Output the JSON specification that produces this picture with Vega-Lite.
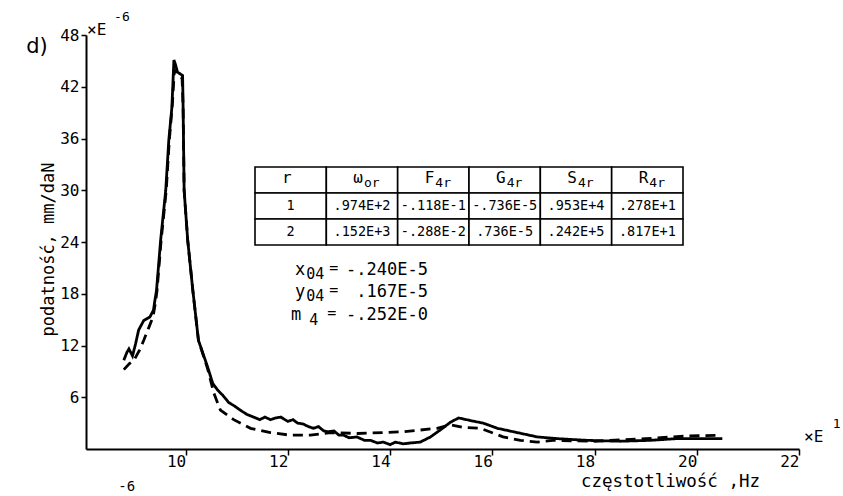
{
  "$schema": "https://vega.github.io/schema/vega-lite/v6.json",
  "width": 713,
  "height": 414,
  "autosize": {"type": "none"},
  "padding": {"left": 86, "top": 35, "right": 44, "bottom": 47},
  "background": "white",
  "config": {
    "view": {"stroke": null},
    "font": "DejaVu Sans Mono",
    "axis": {
      "domainColor": "black", "domainWidth": 2, "tickColor": "black", "tickWidth": 1.5,
      "labelColor": "black", "titleColor": "black", "titleFontWeight": "normal",
      "labelFont": "DejaVu Sans Mono", "titleFont": "DejaVu Sans Mono", "grid": false,
      "labelFontSize": 16, "titleFontSize": 17
    }
  },
  "datasets": {
    "curves": [
      {"x": 8.79, "y": 10.3, "series": "pomiar"},
      {"x": 8.85, "y": 11.2, "series": "pomiar"},
      {"x": 8.89, "y": 11.6, "series": "pomiar"},
      {"x": 8.96, "y": 10.8, "series": "pomiar"},
      {"x": 9.02, "y": 12.2, "series": "pomiar"},
      {"x": 9.08, "y": 13.8, "series": "pomiar"},
      {"x": 9.18, "y": 14.9, "series": "pomiar"},
      {"x": 9.30, "y": 15.3, "series": "pomiar"},
      {"x": 9.37, "y": 16.1, "series": "pomiar"},
      {"x": 9.40, "y": 17.3, "series": "pomiar"},
      {"x": 9.43, "y": 18.4, "series": "pomiar"},
      {"x": 9.51, "y": 24.2, "series": "pomiar"},
      {"x": 9.61, "y": 30.0, "series": "pomiar"},
      {"x": 9.67, "y": 35.8, "series": "pomiar"},
      {"x": 9.73, "y": 39.6, "series": "pomiar"},
      {"x": 9.77, "y": 45.1, "series": "pomiar"},
      {"x": 9.80, "y": 44.6, "series": "pomiar"},
      {"x": 9.84, "y": 43.7, "series": "pomiar"},
      {"x": 9.94, "y": 43.3, "series": "pomiar"},
      {"x": 9.95, "y": 39.6, "series": "pomiar"},
      {"x": 9.97, "y": 30.0, "series": "pomiar"},
      {"x": 10.04, "y": 24.2, "series": "pomiar"},
      {"x": 10.14, "y": 18.4, "series": "pomiar"},
      {"x": 10.25, "y": 12.6, "series": "pomiar"},
      {"x": 10.43, "y": 9.5, "series": "pomiar"},
      {"x": 10.53, "y": 7.6, "series": "pomiar"},
      {"x": 10.63, "y": 6.8, "series": "pomiar"},
      {"x": 10.73, "y": 6.2, "series": "pomiar"},
      {"x": 10.84, "y": 5.4, "series": "pomiar"},
      {"x": 10.95, "y": 5.0, "series": "pomiar"},
      {"x": 11.07, "y": 4.5, "series": "pomiar"},
      {"x": 11.20, "y": 4.0, "series": "pomiar"},
      {"x": 11.33, "y": 3.7, "series": "pomiar"},
      {"x": 11.45, "y": 3.4, "series": "pomiar"},
      {"x": 11.55, "y": 3.7, "series": "pomiar"},
      {"x": 11.66, "y": 3.4, "series": "pomiar"},
      {"x": 11.76, "y": 3.6, "series": "pomiar"},
      {"x": 11.86, "y": 3.7, "series": "pomiar"},
      {"x": 12.00, "y": 3.2, "series": "pomiar"},
      {"x": 12.10, "y": 3.4, "series": "pomiar"},
      {"x": 12.19, "y": 3.0, "series": "pomiar"},
      {"x": 12.30, "y": 2.9, "series": "pomiar"},
      {"x": 12.40, "y": 2.6, "series": "pomiar"},
      {"x": 12.50, "y": 2.4, "series": "pomiar"},
      {"x": 12.60, "y": 2.6, "series": "pomiar"},
      {"x": 12.70, "y": 2.1, "series": "pomiar"},
      {"x": 12.78, "y": 2.0, "series": "pomiar"},
      {"x": 12.90, "y": 2.1, "series": "pomiar"},
      {"x": 13.00, "y": 1.6, "series": "pomiar"},
      {"x": 13.09, "y": 1.6, "series": "pomiar"},
      {"x": 13.20, "y": 1.3, "series": "pomiar"},
      {"x": 13.35, "y": 1.4, "series": "pomiar"},
      {"x": 13.50, "y": 1.0, "series": "pomiar"},
      {"x": 13.62, "y": 1.0, "series": "pomiar"},
      {"x": 13.75, "y": 0.7, "series": "pomiar"},
      {"x": 13.87, "y": 0.8, "series": "pomiar"},
      {"x": 14.00, "y": 0.5, "series": "pomiar"},
      {"x": 14.10, "y": 0.8, "series": "pomiar"},
      {"x": 14.26, "y": 0.6, "series": "pomiar"},
      {"x": 14.40, "y": 0.7, "series": "pomiar"},
      {"x": 14.59, "y": 0.8, "series": "pomiar"},
      {"x": 14.79, "y": 1.4, "series": "pomiar"},
      {"x": 14.98, "y": 2.2, "series": "pomiar"},
      {"x": 15.18, "y": 3.1, "series": "pomiar"},
      {"x": 15.34, "y": 3.6, "series": "pomiar"},
      {"x": 15.57, "y": 3.3, "series": "pomiar"},
      {"x": 15.82, "y": 3.0, "series": "pomiar"},
      {"x": 16.10, "y": 2.4, "series": "pomiar"},
      {"x": 16.49, "y": 1.9, "series": "pomiar"},
      {"x": 16.88, "y": 1.4, "series": "pomiar"},
      {"x": 17.27, "y": 1.2, "series": "pomiar"},
      {"x": 17.86, "y": 1.0, "series": "pomiar"},
      {"x": 18.50, "y": 0.9, "series": "pomiar"},
      {"x": 19.08, "y": 1.0, "series": "pomiar"},
      {"x": 19.60, "y": 1.2, "series": "pomiar"},
      {"x": 20.50, "y": 1.2, "series": "pomiar"},
      {"x": 8.79, "y": 9.2, "series": "obliczenia"},
      {"x": 8.90, "y": 9.9, "series": "obliczenia"},
      {"x": 8.99, "y": 10.3, "series": "obliczenia"},
      {"x": 9.10, "y": 11.5, "series": "obliczenia"},
      {"x": 9.18, "y": 12.6, "series": "obliczenia"},
      {"x": 9.28, "y": 14.1, "series": "obliczenia"},
      {"x": 9.36, "y": 15.3, "series": "obliczenia"},
      {"x": 9.41, "y": 17.0, "series": "obliczenia"},
      {"x": 9.44, "y": 18.4, "series": "obliczenia"},
      {"x": 9.52, "y": 24.2, "series": "obliczenia"},
      {"x": 9.62, "y": 30.0, "series": "obliczenia"},
      {"x": 9.68, "y": 35.8, "series": "obliczenia"},
      {"x": 9.74, "y": 40.0, "series": "obliczenia"},
      {"x": 9.78, "y": 44.0, "series": "obliczenia"},
      {"x": 9.82, "y": 43.5, "series": "obliczenia"},
      {"x": 9.93, "y": 43.0, "series": "obliczenia"},
      {"x": 9.95, "y": 39.6, "series": "obliczenia"},
      {"x": 9.97, "y": 30.0, "series": "obliczenia"},
      {"x": 10.04, "y": 24.2, "series": "obliczenia"},
      {"x": 10.14, "y": 18.4, "series": "obliczenia"},
      {"x": 10.25, "y": 12.6, "series": "obliczenia"},
      {"x": 10.43, "y": 9.3, "series": "obliczenia"},
      {"x": 10.55, "y": 6.5, "series": "obliczenia"},
      {"x": 10.68, "y": 4.5, "series": "obliczenia"},
      {"x": 10.94, "y": 3.4, "series": "obliczenia"},
      {"x": 11.27, "y": 2.4, "series": "obliczenia"},
      {"x": 11.66, "y": 1.9, "series": "obliczenia"},
      {"x": 12.05, "y": 1.6, "series": "obliczenia"},
      {"x": 12.44, "y": 1.6, "series": "obliczenia"},
      {"x": 12.83, "y": 1.9, "series": "obliczenia"},
      {"x": 13.36, "y": 1.8, "series": "obliczenia"},
      {"x": 13.87, "y": 1.9, "series": "obliczenia"},
      {"x": 14.26, "y": 2.0, "series": "obliczenia"},
      {"x": 14.92, "y": 2.4, "series": "obliczenia"},
      {"x": 15.18, "y": 2.8, "series": "obliczenia"},
      {"x": 15.43, "y": 2.5, "series": "obliczenia"},
      {"x": 15.77, "y": 2.4, "series": "obliczenia"},
      {"x": 16.21, "y": 1.4, "series": "obliczenia"},
      {"x": 16.55, "y": 1.0, "series": "obliczenia"},
      {"x": 16.88, "y": 0.8, "series": "obliczenia"},
      {"x": 17.19, "y": 1.0, "series": "obliczenia"},
      {"x": 18.00, "y": 0.9, "series": "obliczenia"},
      {"x": 19.00, "y": 1.2, "series": "obliczenia"},
      {"x": 19.80, "y": 1.5, "series": "obliczenia"},
      {"x": 20.45, "y": 1.6, "series": "obliczenia"}
    ],
    "table": [
      {"row": "h", "col": "c1", "text": "r", "sub": ""},
      {"row": "h", "col": "c2", "text": "ω", "sub": "or"},
      {"row": "h", "col": "c3", "text": "F", "sub": "4r"},
      {"row": "h", "col": "c4", "text": "G", "sub": "4r"},
      {"row": "h", "col": "c5", "text": "S", "sub": "4r"},
      {"row": "h", "col": "c6", "text": "R", "sub": "4r"},
      {"row": "1", "col": "c1", "text": "1", "sub": ""},
      {"row": "1", "col": "c2", "text": ".974E+2", "sub": ""},
      {"row": "1", "col": "c3", "text": "-.118E-1", "sub": ""},
      {"row": "1", "col": "c4", "text": "-.736E-5", "sub": ""},
      {"row": "1", "col": "c5", "text": ".953E+4", "sub": ""},
      {"row": "1", "col": "c6", "text": ".278E+1", "sub": ""},
      {"row": "2", "col": "c1", "text": "2", "sub": ""},
      {"row": "2", "col": "c2", "text": ".152E+3", "sub": ""},
      {"row": "2", "col": "c3", "text": "-.288E-2", "sub": ""},
      {"row": "2", "col": "c4", "text": ".736E-5", "sub": ""},
      {"row": "2", "col": "c5", "text": ".242E+5", "sub": ""},
      {"row": "2", "col": "c6", "text": ".817E+1", "sub": ""}
    ]
  },
  "layer": [
    {
      "layer": [
        {
          "data": {"name": "curves"},
          "mark": {"type": "line", "color": "black", "strokeWidth": 2.8, "clip": false},
          "encoding": {
            "x": {"field": "x", "type": "quantitative",
                  "scale": {"domain": [8.05, 22], "nice": false, "zero": false},
                  "axis": {"values": [10, 12, 14, 16, 18, 20, 22], "title": "częstotliwość ,Hz",
                           "titleX": 584, "titleY": 37, "titleAlign": "center", "titleBaseline": "alphabetic",
                           "titleFontSize": 17.5,
                           "tickSize": 6, "labelAlign": "right", "labelBaseline": "top",
                           "labelPadding": -2, "labelDx": -2}},
            "y": {"field": "y", "type": "quantitative",
                  "scale": {"domain": [0, 48], "nice": false},
                  "axis": {"values": [6, 12, 18, 24, 30, 36, 42, 48], "title": "podatność, mm/daN",
                           "titleX": -38, "titleY": 214, "titleAngle": 270, "titleAlign": "center",
                           "titleBaseline": "middle", "titleFontSize": 17, "tickSize": 5, "labelPadding": 2}},
            "strokeDash": {"field": "series", "type": "nominal",
                           "scale": {"domain": ["pomiar", "obliczenia"], "range": [[1, 0], [10, 6]]},
                           "legend": null}
          }
        },
        {
          "data": {"values": [{}]},
          "mark": {"type": "text", "font": "DejaVu Sans", "fontSize": 21, "align": "center", "baseline": "middle", "color": "black"},
          "encoding": {"x": {"datum": 7.09, "type": "quantitative"}, "y": {"datum": 46.6, "type": "quantitative"}, "text": {"value": "d)"}}
        },
        {
          "data": {"values": [{}]},
          "mark": {"type": "text", "fontSize": 16, "align": "left", "baseline": "middle", "color": "black"},
          "encoding": {"x": {"datum": 8.07, "type": "quantitative"}, "y": {"datum": 48.6, "type": "quantitative"}, "text": {"value": "×E"}}
        },
        {
          "data": {"values": [{}]},
          "mark": {"type": "text", "fontSize": 13, "align": "left", "baseline": "middle", "color": "black"},
          "encoding": {"x": {"datum": 8.6, "type": "quantitative"}, "y": {"datum": 50.1, "type": "quantitative"}, "text": {"value": "-6"}}
        },
        {
          "data": {"values": [{}]},
          "mark": {"type": "text", "fontSize": 16, "align": "left", "baseline": "middle", "color": "black"},
          "encoding": {"x": {"datum": 22.1, "type": "quantitative"}, "y": {"datum": 1.4, "type": "quantitative"}, "text": {"value": "×E"}}
        },
        {
          "data": {"values": [{}]},
          "mark": {"type": "text", "fontSize": 13, "align": "left", "baseline": "middle", "color": "black"},
          "encoding": {"x": {"datum": 22.66, "type": "quantitative"}, "y": {"datum": 2.9, "type": "quantitative"}, "text": {"value": "1"}}
        },
        {
          "data": {"values": [{}]},
          "mark": {"type": "text", "fontSize": 14, "align": "left", "baseline": "middle", "color": "black"},
          "encoding": {"x": {"datum": 8.68, "type": "quantitative"}, "y": {"datum": -4.4, "type": "quantitative"}, "text": {"value": "-6"}}
        },
        {
          "data": {"values": [{}]},
          "mark": {"type": "text", "fontSize": 17, "align": "left", "baseline": "middle", "color": "black"},
          "encoding": {"x": {"datum": 12.14, "type": "quantitative"}, "y": {"datum": 20.75, "type": "quantitative"}, "text": {"value": "x"}}
        },
        {
          "data": {"values": [{}]},
          "mark": {"type": "text", "fontSize": 15, "align": "left", "baseline": "middle", "color": "black", "dy": 4},
          "encoding": {"x": {"datum": 12.36, "type": "quantitative"}, "y": {"datum": 20.75, "type": "quantitative"}, "text": {"value": "04"}}
        },
        {
          "data": {"values": [{}]},
          "mark": {"type": "text", "fontSize": 15, "align": "center", "baseline": "middle", "color": "black", "dy": -2},
          "encoding": {"x": {"datum": 12.9, "type": "quantitative"}, "y": {"datum": 20.75, "type": "quantitative"}, "text": {"value": "="}}
        },
        {
          "data": {"values": [{}]},
          "mark": {"type": "text", "fontSize": 17, "align": "left", "baseline": "middle", "color": "black"},
          "encoding": {"x": {"datum": 12.14, "type": "quantitative"}, "y": {"datum": 18.2, "type": "quantitative"}, "text": {"value": "y"}}
        },
        {
          "data": {"values": [{}]},
          "mark": {"type": "text", "fontSize": 15, "align": "left", "baseline": "middle", "color": "black", "dy": 4},
          "encoding": {"x": {"datum": 12.36, "type": "quantitative"}, "y": {"datum": 18.2, "type": "quantitative"}, "text": {"value": "04"}}
        },
        {
          "data": {"values": [{}]},
          "mark": {"type": "text", "fontSize": 15, "align": "center", "baseline": "middle", "color": "black", "dy": -2},
          "encoding": {"x": {"datum": 12.9, "type": "quantitative"}, "y": {"datum": 18.2, "type": "quantitative"}, "text": {"value": "="}}
        },
        {
          "data": {"values": [{}]},
          "mark": {"type": "text", "fontSize": 17, "align": "left", "baseline": "middle", "color": "black"},
          "encoding": {"x": {"datum": 12.06, "type": "quantitative"}, "y": {"datum": 15.5, "type": "quantitative"}, "text": {"value": "m"}}
        },
        {
          "data": {"values": [{}]},
          "mark": {"type": "text", "fontSize": 15, "align": "left", "baseline": "middle", "color": "black", "dy": 5},
          "encoding": {"x": {"datum": 12.42, "type": "quantitative"}, "y": {"datum": 15.5, "type": "quantitative"}, "text": {"value": "4"}}
        },
        {
          "data": {"values": [{}]},
          "mark": {"type": "text", "fontSize": 15, "align": "center", "baseline": "middle", "color": "black", "dy": -2},
          "encoding": {"x": {"datum": 12.86, "type": "quantitative"}, "y": {"datum": 15.5, "type": "quantitative"}, "text": {"value": "="}}
        },
        {
          "data": {"values": [{}]},
          "mark": {"type": "text", "fontSize": 17, "align": "right", "baseline": "middle", "color": "black"},
          "encoding": {"x": {"datum": 14.74, "type": "quantitative"}, "y": {"datum": 20.75, "type": "quantitative"}, "text": {"value": "-.240E-5"}}
        },
        {
          "data": {"values": [{}]},
          "mark": {"type": "text", "fontSize": 17, "align": "right", "baseline": "middle", "color": "black"},
          "encoding": {"x": {"datum": 14.74, "type": "quantitative"}, "y": {"datum": 18.2, "type": "quantitative"}, "text": {"value": ".167E-5"}}
        },
        {
          "data": {"values": [{}]},
          "mark": {"type": "text", "fontSize": 17, "align": "right", "baseline": "middle", "color": "black"},
          "encoding": {"x": {"datum": 14.74, "type": "quantitative"}, "y": {"datum": 15.5, "type": "quantitative"}, "text": {"value": "-.252E-0"}}
        }
      ]
    },
    {
      "data": {"name": "table"},
      "encoding": {
        "x": {"field": "col", "type": "ordinal", "axis": null,
              "scale": {"range": [169, 597], "paddingInner": 0, "paddingOuter": 0}},
        "y": {"field": "row", "type": "ordinal", "axis": null, "sort": ["h", "1", "2"],
              "scale": {"range": [132, 210], "paddingInner": 0, "paddingOuter": 0}}
      },
      "layer": [
        {"mark": {"type": "rect", "fill": "white", "stroke": "black", "strokeWidth": 1.6}},
        {"transform": [{"filter": "datum.row !== 'h'"}],
         "mark": {"type": "text", "fontSize": 13.5, "color": "black", "align": "center", "baseline": "middle"},
         "encoding": {"text": {"field": "text", "type": "nominal"}}},
        {"transform": [{"filter": "datum.row === 'h'"}],
         "mark": {"type": "text", "fontSize": 16, "color": "black", "align": "right", "baseline": "middle", "dx": 1, "dy": -2},
         "encoding": {"text": {"field": "text", "type": "nominal"}}},
        {"transform": [{"filter": "datum.row === 'h'"}],
         "mark": {"type": "text", "fontSize": 13, "color": "black", "align": "left", "baseline": "middle", "dx": 2, "dy": 3},
         "encoding": {"text": {"field": "sub", "type": "nominal"}}}
      ]
    }
  ],
  "resolve": {"scale": {"x": "independent", "y": "independent"}, "axis": {"x": "independent", "y": "independent"}}
}
